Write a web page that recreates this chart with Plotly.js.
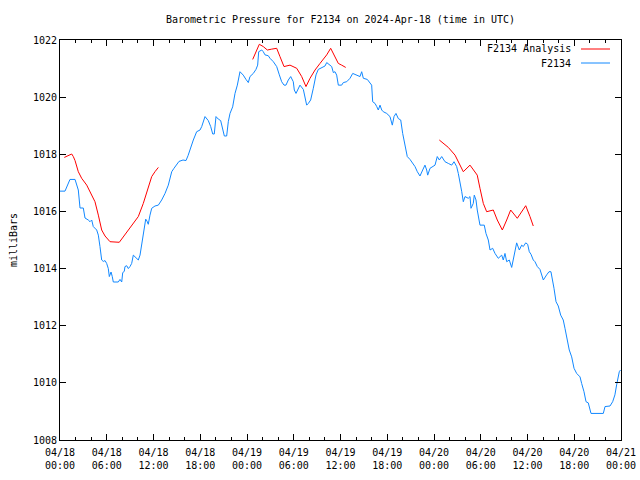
<!DOCTYPE html>
<html>
<head>
<meta charset="utf-8">
<script src="https://cdn.plot.ly/plotly-3.0.1.min.js"></script>
<style>html,body{margin:0;padding:0;background:#fff;}#chart{width:640px;height:480px;}</style>
</head>
<body>
<div id="chart"></div>
<script>
// Hours since 2024-04-18 00:00 UTC
const stationHours = [0,0.64,1.28,1.93,2.35,2.57,2.99,3.21,3.63,3.85,4.07,4.27,4.71,4.92,5.13,5.35,5.56,5.78,5.99,6.20,6.33,6.55,6.71,6.84,7.48,7.70,7.92,8.05,8.25,8.34,8.56,8.77,8.98,9.20,9.41,9.63,9.84,10.05,10.27,10.49,10.69,10.91,11.00,11.17,11.33,11.55,11.77,12.19,12.62,13.05,13.48,13.90,14.34,14.63,14.89,15.27,15.79,16.17,16.43,16.68,17.11,17.54,17.97,18.19,18.61,19.03,19.34,19.60,19.80,20.02,20.32,20.62,20.88,21.09,21.39,21.60,21.82,22.16,22.46,22.76,23.10,23.52,23.87,24.17,24.38,24.81,25.15,25.37,25.50,25.89,26.09,26.31,26.73,26.95,27.38,27.81,28.15,28.45,28.75,29.00,29.30,29.61,29.94,30.07,30.29,30.58,30.80,31.23,31.44,31.66,31.87,32.17,32.51,32.86,33.15,33.59,34.01,34.23,34.56,34.87,35.08,35.29,35.51,35.72,36.15,36.36,36.80,37.22,37.57,38.08,38.50,38.72,38.93,39.44,39.79,40.00,40.13,40.43,40.65,40.85,41.07,41.29,41.49,41.93,42.35,42.65,42.87,43.12,43.42,43.73,43.98,44.15,44.37,44.57,44.92,45.27,45.56,45.86,46.20,46.55,46.84,47.06,47.19,47.49,47.91,48.13,48.42,48.68,48.99,49.41,49.84,50.27,50.57,50.91,51.12,51.34,51.56,51.76,51.98,52.40,52.62,52.75,53.04,53.17,53.39,53.55,53.90,54.45,54.67,54.97,55.19,55.53,55.83,56.25,56.69,56.89,57.11,57.33,57.66,57.97,58.18,58.40,58.61,58.95,59.25,59.46,59.77,60.02,60.23,60.45,60.74,60.96,61.26,61.60,61.82,62.03,62.46,62.76,63.01,63.23,63.40,63.66,63.95,64.26,64.59,64.81,65.03,65.36,65.67,65.97,66.31,66.74,66.95,67.25,67.51,67.80,68.15,69.73,69.95,70.59,70.93,71.22,71.44,71.78,71.94];
const stationPressure = [1016.71,1016.71,1017.12,1017.12,1016.75,1016.12,1016.12,1015.77,1015.70,1015.64,1015.70,1015.47,1015.35,1015.17,1014.77,1014.30,1014.25,1014.28,1014.18,1014.00,1013.72,1013.88,1013.72,1013.53,1013.53,1013.62,1013.53,1013.86,1013.90,1014.07,1014.10,1014.00,1014.07,1014.18,1014.47,1014.41,1014.36,1014.30,1014.47,1014.82,1015.11,1015.52,1015.73,1015.66,1015.55,1015.87,1016.11,1016.19,1016.22,1016.40,1016.63,1016.92,1017.39,1017.51,1017.60,1017.75,1017.80,1017.78,1017.95,1018.17,1018.50,1018.79,1018.85,1018.97,1019.32,1019.18,1018.97,1018.71,1018.71,1019.32,1019.23,1019.18,1018.85,1018.64,1018.64,1019.14,1019.43,1019.66,1020.13,1020.42,1020.89,1020.77,1020.62,1020.51,1020.72,1020.83,1020.97,1021.12,1021.59,1021.65,1021.59,1021.48,1021.45,1021.36,1021.24,1021.07,1020.78,1020.54,1020.42,1020.42,1020.60,1020.72,1020.54,1020.25,1020.13,1020.27,1020.42,1020.27,1020.00,1019.72,1019.78,1019.90,1020.31,1020.78,1020.97,1021.04,1021.09,1021.21,1021.12,1021.07,1020.86,1020.89,1020.77,1020.42,1020.42,1020.51,1020.54,1020.66,1020.83,1020.77,1020.72,1020.89,1020.66,1020.62,1020.51,1020.42,1019.84,1019.78,1019.67,1019.55,1019.72,1019.55,1019.49,1019.43,1019.32,1019.02,1019.32,1019.43,1019.25,1019.20,1018.73,1018.50,1018.09,1017.92,1017.82,1017.68,1017.57,1017.39,1017.24,1017.45,1017.62,1017.45,1017.27,1017.51,1017.57,1017.62,1017.92,1017.80,1017.92,1017.74,1017.68,1017.62,1017.74,1017.57,1017.33,1017.04,1016.69,1016.34,1016.52,1016.46,1016.52,1016.11,1016.28,1016.57,1016.40,1016.05,1015.52,1015.52,1015.23,1015.00,1014.65,1014.71,1014.53,1014.36,1014.47,1014.30,1014.53,1014.24,1014.30,1014.04,1014.30,1014.59,1014.90,1014.65,1014.82,1014.77,1014.90,1014.85,1014.59,1014.50,1014.30,1014.24,1014.07,1013.97,1013.80,1013.60,1013.78,1013.89,1013.89,1013.60,1013.31,1012.84,1012.69,1012.37,1012.20,1011.91,1011.56,1011.15,1010.91,1010.51,1010.33,1010.21,1009.98,1009.69,1009.34,1009.30,1008.93,1008.93,1009.17,1009.19,1009.34,1009.58,1009.93,1010.39,1010.45];

const analysisHours1 = [0.55,1.07,1.50,1.71,1.93,2.35,2.78,3.43,4.07,4.49,4.92,5.35,5.78,6.42,7.61,8.12,8.77,9.41,10.05,10.69,11.33,11.77,12.19,12.62];
const analysisPressure1 = [1017.89,1017.95,1018.01,1017.92,1017.78,1017.39,1017.16,1016.92,1016.57,1016.34,1015.87,1015.35,1015.14,1014.94,1014.92,1015.11,1015.35,1015.55,1015.82,1016.28,1016.87,1017.22,1017.39,1017.54];
const analysisHours2 = [24.73,25.15,25.58,26.09,26.61,27.17,27.81,28.23,28.75,29.52,30.38,31.02,31.57,32.09,32.73,33.37,34.23,34.74,35.20,35.72,36.15,36.67];
const analysisPressure2 = [1021.32,1021.59,1021.85,1021.77,1021.65,1021.68,1021.71,1021.42,1021.07,1021.12,1021.01,1020.72,1020.37,1020.66,1020.95,1021.18,1021.48,1021.71,1021.44,1021.18,1021.12,1021.04];
const analysisHours3 = [48.68,49.19,49.84,50.70,51.25,51.76,52.62,53.55,53.90,54.33,54.76,55.61,56.12,56.77,57.33,57.84,58.69,59.25,59.77,60.32,60.74];
const analysisPressure3 = [1018.50,1018.38,1018.24,1017.97,1017.68,1017.39,1017.62,1017.27,1016.81,1016.28,1015.99,1016.05,1015.70,1015.35,1015.70,1016.05,1015.76,1016.00,1016.20,1015.82,1015.49];

const tickHours = [0,6,12,18,24,30,36,42,48,54,60,66,72];
const tickLabels = ["04/18<br>00:00","04/18<br>06:00","04/18<br>12:00","04/18<br>18:00","04/19<br>00:00","04/19<br>06:00","04/19<br>12:00","04/19<br>18:00","04/20<br>00:00","04/20<br>06:00","04/20<br>12:00","04/20<br>18:00","04/21<br>00:00"];
const minorHours = [];
for (let h = 0; h <= 72; h += 2) { if (h % 6 !== 0) minorHours.push(h); }

const analysisX = analysisHours1.concat([null], analysisHours2, [null], analysisHours3);
const analysisY = analysisPressure1.concat([null], analysisPressure2, [null], analysisPressure3);

const FONT = "DejaVu Sans Mono, monospace";
const RED = "#ff0000", BLUE = "#1188ff";

const traces = [
  {x: analysisX, y: analysisY, type: 'scatter', mode: 'lines', name: 'F2134 Analysis',
   line: {color: RED, width: 1}, connectgaps: false, showlegend: false},
  {x: stationHours, y: stationPressure, type: 'scatter', mode: 'lines', name: 'F2134',
   line: {color: BLUE, width: 1}, showlegend: false}
];

const layout = {
  width: 640, height: 480,
  margin: {l: 60, r: 19, t: 40, b: 40, pad: 0},
  paper_bgcolor: '#fff', plot_bgcolor: '#fff',
  font: {family: FONT, size: 10, color: '#000'},
  title: {text: 'Barometric Pressure for F2134 on 2024-Apr-18 (time in UTC)', x: 0.5, xref: 'paper',
          y: 0.96, yref: 'container', yanchor: 'middle', font: {family: FONT, size: 10, color: '#000'}},
  xaxis: {range: [0, 72], tickmode: 'array', tickvals: tickHours, ticktext: tickLabels,
          ticks: 'inside', ticklen: 6, tickcolor: '#000', tickwidth: 1, ticklabelstandoff: 3,
          showline: true, linecolor: '#000', linewidth: 1, mirror: 'ticks',
          showgrid: false, zeroline: false,
          minor: {tickmode: 'array', tickvals: minorHours, ticks: 'inside', ticklen: 3, tickcolor: '#000', showgrid: false},
          tickfont: {family: FONT, size: 10, color: '#000'}},
  yaxis: {range: [1008, 1022], dtick: 2, tick0: 1008,
          ticks: 'inside', ticklen: 6, tickcolor: '#000', tickwidth: 1,
          showline: true, linecolor: '#000', linewidth: 1, mirror: 'ticks',
          showgrid: false, zeroline: false,
          tickfont: {family: FONT, size: 10, color: '#000'},
          title: {text: 'milliBars', standoff: 13, font: {family: FONT, size: 10, color: '#000'}}},
  annotations: [
    {xref: 'paper', yref: 'paper', x: 0.9144, y: 0.9775, xanchor: 'right', yanchor: 'middle',
     text: 'F2134 Analysis', showarrow: false, font: {family: FONT, size: 10, color: '#000'}},
    {xref: 'paper', yref: 'paper', x: 0.9144, y: 0.9425, xanchor: 'right', yanchor: 'middle',
     text: 'F2134', showarrow: false, font: {family: FONT, size: 10, color: '#000'}}
  ],
  shapes: [
    {type: 'line', xref: 'paper', yref: 'paper', x0: 0.9287, x1: 0.9804, y0: 0.9775, y1: 0.9775, line: {color: RED, width: 1}},
    {type: 'line', xref: 'paper', yref: 'paper', x0: 0.9287, x1: 0.9804, y0: 0.9425, y1: 0.9425, line: {color: BLUE, width: 1}}
  ]
};

Plotly.newPlot('chart', traces, layout, {displayModeBar: false, staticPlot: true});
</script>
</body>
</html>
